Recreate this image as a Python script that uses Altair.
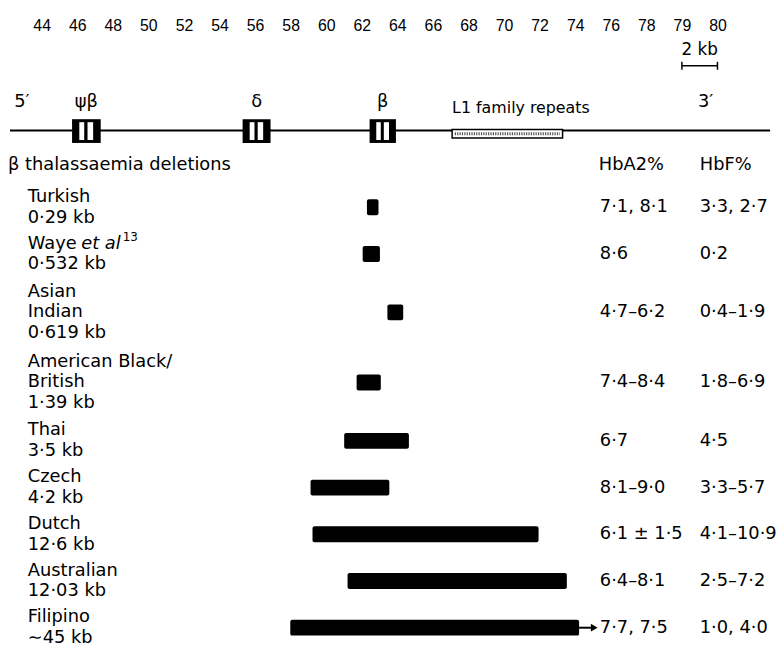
import altair as alt
import pandas as pd

# ---------------- data ----------------
TICK_LABELS = ["44", "46", "48", "50", "52", "54", "56", "58", "60", "62",
               "64", "66", "68", "70", "72", "74", "76", "78", "79", "80"]
TICK_STEP_KB = 2

GENE_NAMES = ["ψβ", "δ", "β"]
GENE_START = [45.71, 55.30, 62.44]
GENE_END = [47.32, 56.87, 63.92]

REPEAT_NAME = ["L1 family repeats"]
REPEAT_START = [67.08]
REPEAT_END = [73.29]

MAP_START = [42.22]
MAP_END = [84.96]
END_LABELS = ["5′", "3′"]
END_POS = [42.89, 81.34]

SCALE_BAR_START = [80.0]
SCALE_BAR_END = [82.0]
SCALE_BAR_LABEL = ["2 kb"]

DEL_NAMES = ["Turkish", "Waye", "Asian\nIndian", "American Black/\nBritish",
             "Thai", "Czech", "Dutch", "Australian", "Filipino"]
DEL_SIZES = ["0·29 kb", "0·532 kb", "0·619 kb", "1·39 kb", "3·5 kb",
             "4·2 kb", "12·6 kb", "12·03 kb", "∼45 kb"]
DEL_START = [62.29, 62.05, 63.44, 61.71, 61.01, 59.12, 59.23, 61.20, 57.98]
DEL_END = [62.94, 63.02, 64.33, 63.07, 64.65, 63.55, 71.94, 73.53, 74.22]
DEL_EXTENDS = [False, False, False, False, False, False, False, False, True]
HBA2 = ["7·1, 8·1", "8·6", "4·7–6·2", "7·4–8·4", "6·7", "8·1–9·0",
        "6·1 ± 1·5", "6·4–8·1", "7·7, 7·5"]
HBF = ["3·3, 2·7", "0·2", "0·4–1·9", "1·8–6·9", "4·5", "3·3–5·7",
       "4·1–10·9", "2·5–7·2", "1·0, 4·0"]
CITE_ITALIC = "et al"
CITE_REF = "13"

HEADER = "β thalassaemia deletions"
COL_HEADERS = ["HbA2%", "HbF%"]

# ---------------- layout ----------------
W, H = 776, 645
PX_PER_KB = 17.97
X0 = 44 - 34 / PX_PER_KB
X1 = X0 + W / PX_PER_KB
FONT = "DejaVu Sans"
FS = 18

TICK_VALUES = [44 + TICK_STEP_KB * i for i in range(len(TICK_LABELS))]
label_expr = "datum.label"
for v, lab in zip(TICK_VALUES, TICK_LABELS):
    label_expr = f"datum.value == {v} ? '{lab}' : (" + label_expr + ")"

xs = alt.Scale(domain=[X0, X1], nice=False, zero=False)
ys = alt.Scale(domain=[0, H], range=[0, H], nice=False, zero=False)
x_axis = alt.Axis(orient="top", values=TICK_VALUES, labelExpr=label_expr,
                  domain=False, ticks=False, tickSize=0, grid=False, labelOverlap=False,
                  labelFlush=False, labelFont="Liberation Sans", labelFontSize=16,
                  labelColor="black", labelPadding=0, labelBaseline="middle",
                  offset=-14, title=None)

ROW0 = 198
LINE_PITCH = 23.6
LINE_H = 21
lines = [n.split("\n") + [s] for n, s in zip(DEL_NAMES, DEL_SIZES)]
centers = [ROW0]
for i in range(1, len(lines)):
    centers.append(centers[-1] + LINE_PITCH * (len(lines[i - 1]) + len(lines[i])) / 2)

rows = pd.DataFrame({
    "start": DEL_START, "end": DEL_END, "hba2": HBA2, "hbf": HBF,
    "c": centers, "ext": DEL_EXTENDS,
})
rows["top"] = rows["c"] - 8
rows["bot"] = rows["c"] + 8

line_recs = []
for c, ls in zip(centers, lines):
    n = len(ls)
    for j, t in enumerate(ls):
        line_recs.append({"t": t, "y": c + (j - (n - 1) / 2) * LINE_H})
label_df = pd.DataFrame(line_recs)

waye_idx = DEL_NAMES.index("Waye")
waye_y = centers[waye_idx] - LINE_H / 2

genes = pd.DataFrame({"name": GENE_NAMES, "start": GENE_START, "end": GENE_END})
genes["mid"] = (genes["start"] + genes["end"]) / 2


def X(f):
    return alt.X(f, type="quantitative", scale=xs, axis=x_axis, title=None)


def Y(f):
    return alt.Y(f, type="quantitative", scale=ys, axis=None, title=None)


base_text = dict(font=FONT, fontSize=FS, color="black", baseline="middle")

# gene map line
map_df = pd.DataFrame({"s": MAP_START, "e": MAP_END, "y": [120.5]})
map_line = alt.Chart(map_df).mark_rule(color="black", strokeWidth=2).encode(
    x=X("s"), x2="e:Q", y=Y("y"))

# scale bar
sb = pd.DataFrame({"s": SCALE_BAR_START, "e": SCALE_BAR_END, "lab": SCALE_BAR_LABEL})
sb["m"] = (sb["s"] + sb["e"]) / 2
sb["y"] = 55
sb["y1"] = 51
sb["y2"] = 59
sb["ty"] = 39
sb_line = alt.Chart(sb).mark_rule(color="black", strokeWidth=1.5).encode(x=X("s"), x2="e", y=Y("y"))
sb_l = alt.Chart(sb).mark_rule(color="black", strokeWidth=1.5).encode(x=X("s"), y=Y("y1"), y2="y2")
sb_r = alt.Chart(sb).mark_rule(color="black", strokeWidth=1.5).encode(x=X("e"), y=Y("y1"), y2="y2")
sb_t = alt.Chart(sb).mark_text(**{**base_text, "fontSize": 17}).encode(x=X("m"), y=Y("ty"), text="lab")

# gene boxes with two white stripes
gb = genes.assign(y1=109, y2=133)
gene_box = alt.Chart(gb).mark_rect(color="black").encode(x=X("start"), x2="end", y=Y("y1"), y2="y2")
stripes = []
for a, b in [(0.253, 0.425), (0.54, 0.736)]:
    st = alt.Chart(gb).transform_calculate(
        sa=f"datum.start + {a} * (datum.end - datum.start)",
        sb=f"datum.start + {b} * (datum.end - datum.start)",
        ya="112", yb="130",
    ).mark_rect(color="white").encode(x=X("sa"), x2="sb", y=Y("ya"), y2="yb")
    stripes.append(st)
gene_lab = alt.Chart(genes.assign(y=92)).mark_text(**base_text).encode(
    x=X("mid"), y=Y("y"), text="name")

ends = pd.DataFrame({"t": END_LABELS, "x": END_POS, "y": 92})
end_lab = alt.Chart(ends).mark_text(**base_text).encode(x=X("x"), y=Y("y"), text="t")

# L1 repeats box
rep = pd.DataFrame({"name": REPEAT_NAME, "s": REPEAT_START, "e": REPEAT_END})
rep["y1"] = 119.5
rep["y2"] = 128
rep["ym"] = 123.8
rep["ty"] = 98
rep_box = alt.Chart(rep).mark_rect(fill="white", stroke="black", strokeWidth=1.5).encode(
    x=X("s"), x2="e", y=Y("y1"), y2="y2")
rep_dots = alt.Chart(rep).transform_calculate(
    a="datum.s + 0.15", b="datum.e - 0.15").mark_rule(
    color="#555", strokeWidth=3, strokeDash=[1.2, 1.2]).encode(x=X("a"), x2="b", y=Y("ym"))
rep_lab = alt.Chart(rep).mark_text(**{**base_text, "fontSize": 16, "align": "left"}).encode(
    x=X("s"), y=Y("ty"), text="name")

# headers
hdr = alt.Chart(pd.DataFrame({"t": [HEADER], "y": [155]})).mark_text(
    **base_text, align="left").encode(x=alt.value(0), y=Y("y"), text="t")
col_hdr = []
for t, xp in zip(COL_HEADERS, [597, 699]):
    col_hdr.append(alt.Chart(pd.DataFrame({"t": [t], "y": [155]})).mark_text(
        **base_text, align="left").encode(x=alt.value(xp), y=Y("y"), text="t"))

# deletion bars
bars = alt.Chart(rows).mark_rect(color="black", cornerRadius=2).encode(
    x=X("start"), x2="end", y=Y("top"), y2="bot")
arr = rows[rows["ext"]].copy()
arr["tip"] = arr["end"] + 0.75
arr["head"] = arr["end"] + 0.85
arrow_line = alt.Chart(arr).mark_rule(color="black", strokeWidth=2).encode(
    x=X("end"), x2="tip", y=Y("c"))
arrow_head = alt.Chart(arr).mark_point(shape="triangle-right", filled=True, color="black",
                                       size=60, opacity=1).encode(x=X("head"), y=Y("c"))

# row labels
row_lab = alt.Chart(label_df).mark_text(**base_text, align="left").encode(
    x=alt.value(20), y=Y("y"), text="t")
cite = pd.DataFrame({"t": [CITE_ITALIC], "r": [CITE_REF], "y": [waye_y], "ys": [waye_y - 7]})
cite_it = alt.Chart(cite).mark_text(**base_text, align="left", fontStyle="italic").encode(
    x=alt.value(74), y=Y("y"), text="t")
cite_sup = alt.Chart(cite).mark_text(**{**base_text, "fontSize": 12, "align": "left"}).encode(
    x=alt.value(116), y=Y("ys"), text="r")

hba2 = alt.Chart(rows).mark_text(**base_text, align="left").encode(
    x=alt.value(598), y=Y("c"), text="hba2")
hbf = alt.Chart(rows).mark_text(**base_text, align="left").encode(
    x=alt.value(699), y=Y("c"), text="hbf")

chart = alt.layer(
    map_line, sb_line, sb_l, sb_r, sb_t, rep_box, rep_dots, gene_box, *stripes,
    gene_lab, end_lab, rep_lab, hdr, *col_hdr, bars, arrow_line, arrow_head,
    row_lab, cite_it, cite_sup, hba2, hbf,
).properties(
    width=W, height=H, padding=0,
    autosize=alt.AutoSizeParams(type="none"),
).configure_view(stroke=None)

chart.save("out.html", embed_options={"renderer": "svg", "actions": False})
